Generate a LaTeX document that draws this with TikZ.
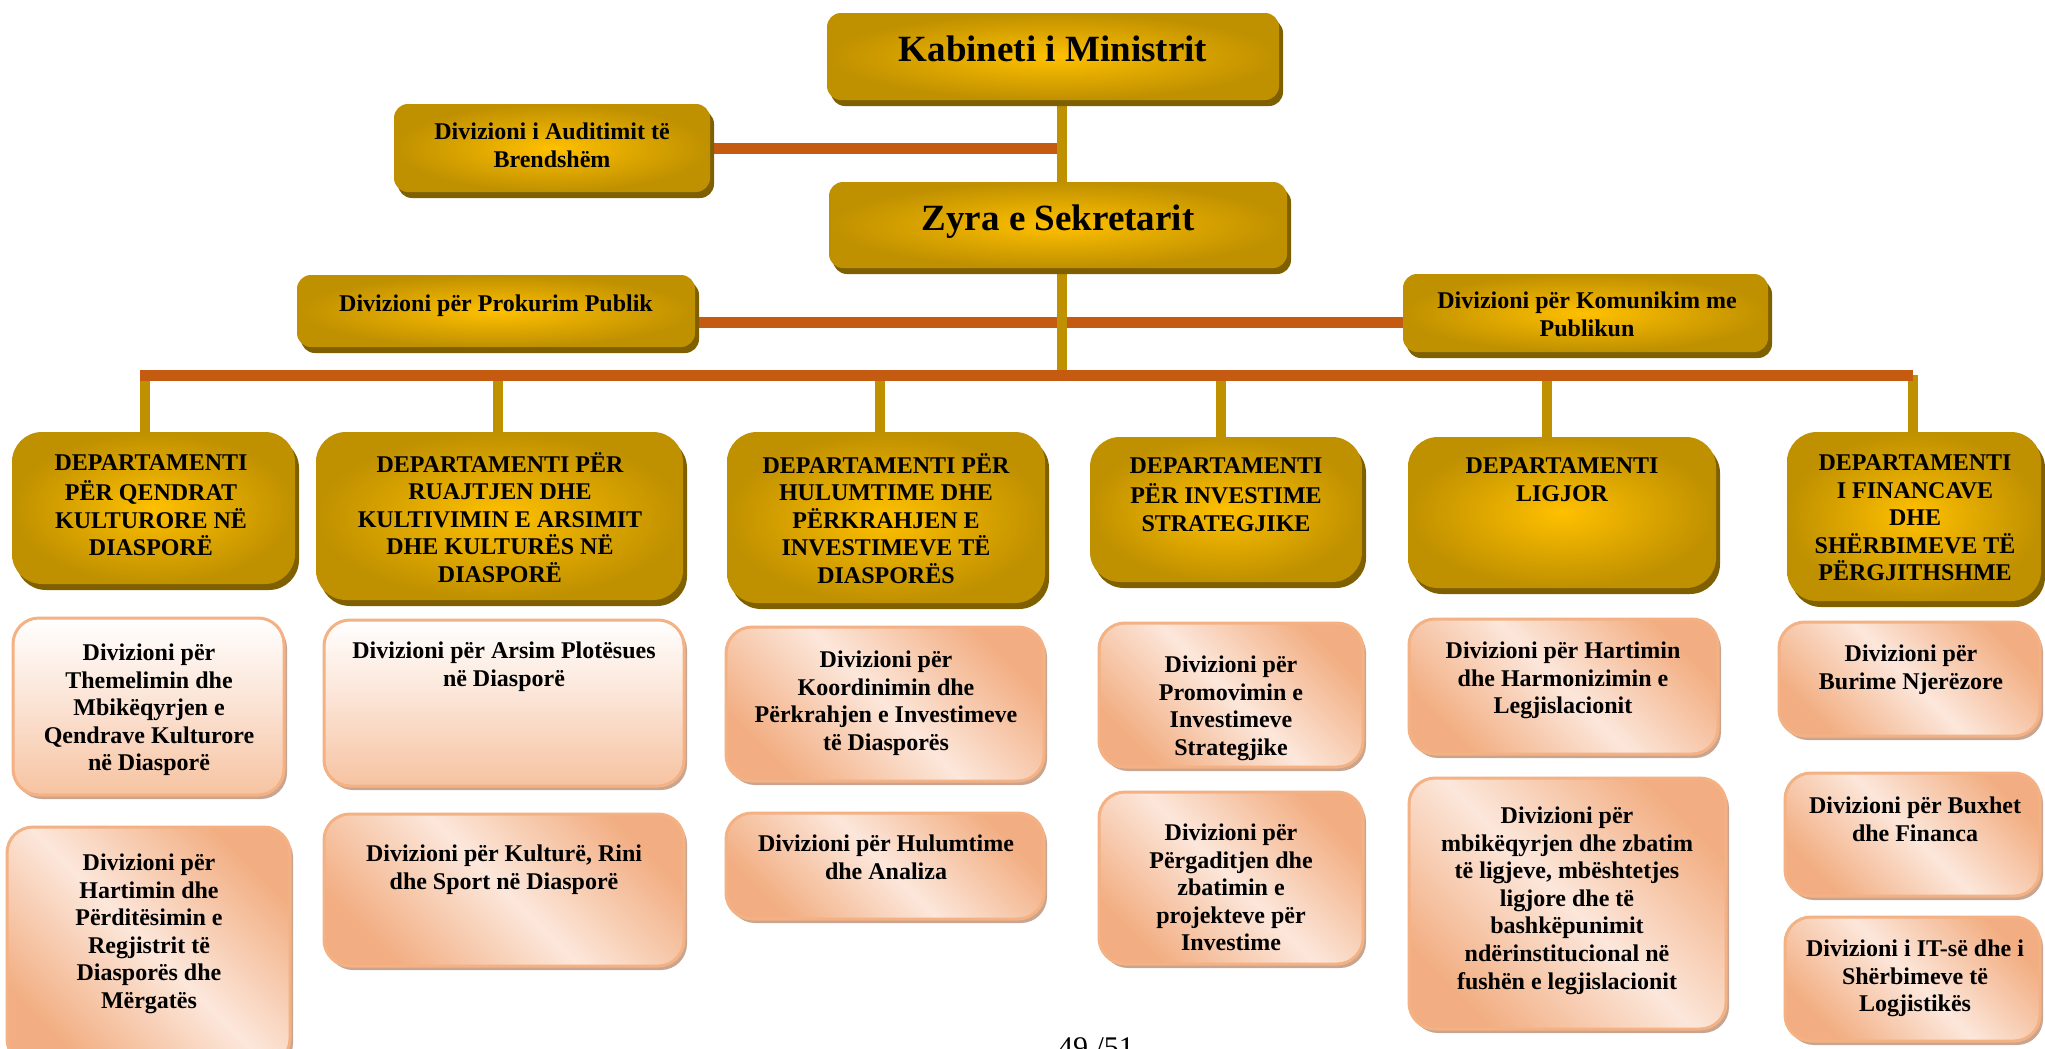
\documentclass[tikz,border=0pt]{standalone}
\usepackage{fontspec}
\setmainfont{Liberation Serif}
\usetikzlibrary{fit,shadows}
\pgfdeclarelayer{bg}
\pgfsetlayers{bg,main}
\definecolor{goldC}{HTML}{FFC000}
\definecolor{goldE}{HTML}{BF9000}
\definecolor{goldS}{HTML}{7F6000}
\definecolor{peachO}{HTML}{F2AE82}
\definecolor{peachL}{HTML}{FCE7DB}
\definecolor{peachB}{HTML}{F4B183}
\definecolor{peachS}{HTML}{C9A58F}
\definecolor{peachV}{HTML}{F6C3A1}
\definecolor{peachM}{HTML}{FBE2D3}
\definecolor{rust}{HTML}{C55A11}
\definecolor{lineG}{HTML}{BF9000}
\begin{document}
\begin{tikzpicture}[x=0.5pt,y=-0.5pt,
  titlebox/.style={inner sep=0pt, rounded corners=7pt, inner color=goldC, outer color=goldE,
    drop shadow={shadow xshift=2pt,shadow yshift=-3pt,fill=goldS,opacity=1}},
  deptbox/.style={titlebox, rounded corners=15pt},
  peachbox/.style={inner sep=0pt, rounded corners=13pt, draw=peachB, line width=1.5pt,
    top color=peachO, bottom color=peachO, middle color=peachL, shading angle=-45,
    drop shadow={shadow xshift=1.5pt,shadow yshift=-2pt,fill=peachS,opacity=1}},
  peachvert/.style={peachbox, top color=white, bottom color=peachV, middle color=peachM, shading angle=0},
  txt/.style={font=\bfseries\fontsize{12}{13.8}\selectfont, align=center, inner sep=0pt, anchor=north},
  bigtxt/.style={font=\bfseries\fontsize{18.5}{21.3}\selectfont, align=center, inner sep=0pt, anchor=north},
  goldline/.style={line width=5pt, draw=lineG},
  rustline/.style={line width=5.5pt, draw=rust}]
\useasboundingbox (0,0) rectangle (2045,1049);
\clip (0,0) rectangle (2045,1049);

% top boxes
\node[titlebox, fit={(827,13) (1279,100)}] (kab) {};
\node[titlebox, fit={(829,182) (1287,268)}] (zyr) {};
\node[titlebox, fit={(394,104) (710,192)}] (aud) {};
\node[titlebox, fit={(297,275) (695,347)}] (prok) {};
\node[titlebox, fit={(1403,274) (1768,352)}] (kom) {};

% departments
\node[deptbox, fit={(12,432) (295,584)}] (d1) {};
\node[deptbox, fit={(316,432) (683,600)}] (d2) {};
\node[deptbox, fit={(727,432) (1045,603)}] (d3) {};
\node[deptbox, fit={(1090,437) (1362,582)}] (d4) {};
\node[deptbox, fit={(1408,437) (1716,588)}] (d5) {};
\node[deptbox, fit={(1787,432) (2041,601)}] (d6) {};

% divisions
\node[peachvert, fit={(13,618) (284,795)}] (c1a) {};
\node[peachbox, fit={(7,827) (290,1065)}] (c1b) {};
\node[peachvert, fit={(324,620) (684,786)}] (c2a) {};
\node[peachbox, fit={(324,814) (684,966)}] (c2b) {};
\node[peachbox, fit={(726,627) (1044,781)}] (c3a) {};
\node[peachbox, fit={(726,813) (1044,919)}] (c3b) {};
\node[peachbox, fit={(1099,623) (1363,767)}] (c4a) {};
\node[peachbox, fit={(1099,792) (1363,964)}] (c4b) {};
\node[peachbox, fit={(1409,619) (1718,754)}] (c5a) {};
\node[peachbox, fit={(1409,778) (1726,1029)}] (c5b) {};
\node[peachbox, fit={(1779,622) (2040,736)}] (c6a) {};
\node[peachbox, fit={(1785,773) (2040,896)}] (c6b) {};
\node[peachbox, fit={(1785,917) (2040,1041)}] (c6c) {};

% texts
\node[bigtxt] (kab-t) at (1053,31.2) {\strut Kabineti i Ministrit};
\node[bigtxt] (zyr-t) at (1058,200.2) {\strut Zyra e Sekretarit};
\node[txt] (aud-t) at (552,119.7) {\strut Divizioni i Auditimit të\\Brendshëm};
\node[txt] (prok-t) at (496,291.7) {\strut Divizioni për Prokurim Publik};
\node[txt] (kom-t) at (1587,288.7) {\strut Divizioni për Komunikim me\\Publikun};

\node[txt] (d1-t) at (151,450.7) {\strut DEPARTAMENTI\\PËR QENDRAT\\KULTURORE NË\\DIASPORË};
\node[txt] (d2-t) at (500,451.7) {\strut DEPARTAMENTI PËR\\RUAJTJEN DHE\\KULTIVIMIN E ARSIMIT\\DHE KULTURËS NË\\DIASPORË};
\node[txt] (d3-t) at (886,452.7) {\strut DEPARTAMENTI PËR\\HULUMTIME DHE\\PËRKRAHJEN E\\INVESTIMEVE TË\\DIASPORËS};
\node[txt] (d4-t) at (1226,453.7) {\strut DEPARTAMENTI\\PËR INVESTIME\\STRATEGJIKE};
\node[txt] (d5-t) at (1562,453.7) {\strut DEPARTAMENTI\\LIGJOR};
\node[txt] (d6-t) at (1915,450.7) {\strut DEPARTAMENTI\\I FINANCAVE\\DHE\\SHËRBIMEVE TË\\PËRGJITHSHME};

\node[txt] (c1a-t) at (149,640.7) {\strut Divizioni për\\Themelimin dhe\\Mbikëqyrjen e\\Qendrave Kulturore\\në Diasporë};
\node[txt] (c1b-t) at (149,850.7) {\strut Divizioni për\\Hartimin dhe\\Përditësimin e\\Regjistrit të\\Diasporës dhe\\Mërgatës};
\node[txt] (c2a-t) at (504,638.7) {\strut Divizioni për Arsim Plotësues\\në Diasporë};
\node[txt] (c2b-t) at (504,841.7) {\strut Divizioni për Kulturë, Rini\\dhe Sport në Diasporë};
\node[txt] (c3a-t) at (886,647.7) {\strut Divizioni për\\Koordinimin dhe\\Përkrahjen e Investimeve\\të Diasporës};
\node[txt] (c3b-t) at (886,831.7) {\strut Divizioni për Hulumtime\\dhe Analiza};
\node[txt] (c4a-t) at (1231,652.7) {\strut Divizioni për\\Promovimin e\\Investimeve\\Strategjike};
\node[txt] (c4b-t) at (1231,820.7) {\strut Divizioni për\\Përgaditjen dhe\\zbatimin e\\projekteve për\\Investime};
\node[txt] (c5a-t) at (1563,638.7) {\strut Divizioni për Hartimin\\dhe Harmonizimin e\\Legjislacionit};
\node[txt] (c5b-t) at (1567,803.7) {\strut Divizioni për\\mbikëqyrjen dhe zbatim\\të ligjeve, mbështetjes\\ligjore dhe të\\bashkëpunimit\\ndërinstitucional në\\fushën e legjislacionit};
\node[txt] (c6a-t) at (1911,641.7) {\strut Divizioni për\\Burime Njerëzore};
\node[txt] (c6b-t) at (1915,793.7) {\strut Divizioni për Buxhet\\dhe Financa};
\node[txt] (c6c-t) at (1915,936.7) {\strut Divizioni i IT-së dhe i\\Shërbimeve të\\Logjistikës};

\node[font=\fontsize{15}{18}\selectfont, anchor=base, inner sep=0pt] (pg) at (1096,1057) {49 /51};

% connectors
\coordinate (main) at (1062,370);
\coordinate (pk) at (1062,322);
\coordinate (hl) at (140,375);
\coordinate (hr) at (1913,375);
\coordinate (v1) at (145,375);
\coordinate (v2) at (498,375);
\coordinate (v3) at (880,375);
\coordinate (v4) at (1221,375);
\coordinate (v5) at (1547,375);
\coordinate (v6) at (1913,375);
\begin{pgfonlayer}{bg}
  \draw[goldline] (v1) -- (v1 |- d1.north);
  \draw[goldline] (v2) -- (v2 |- d2.north);
  \draw[goldline] (v3) -- (v3 |- d3.north);
  \draw[goldline] (v4) -- (v4 |- d4.north);
  \draw[goldline] (v5) -- (v5 |- d5.north);
  \draw[goldline] (v6) -- (v6 |- d6.north);
  \draw[rustline] (aud.east) -- (aud.east -| main);
  \draw[rustline] (prok.east |- pk) -- (kom.west |- pk);
  \draw[rustline] (hl) -- (hr);
  \draw[goldline] (kab.south -| main) -- (main);
\end{pgfonlayer}
\end{tikzpicture}
\end{document}
